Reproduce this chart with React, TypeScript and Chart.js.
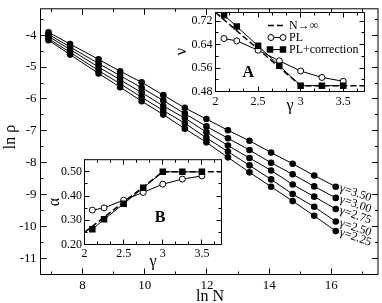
import React, { useEffect, useRef } from 'react';
import { Chart, registerables } from 'chart.js';
Chart.register(...registerables);

const SERIF = '"Liberation Serif", "DejaVu Serif", serif';

// ---- main chart data ----
const lnN = [6.908, 7.601, 8.517, 9.21, 9.903, 10.597, 11.29, 11.983, 12.676, 13.369, 14.063, 14.756, 15.449, 16.142];
const lnRho350 = [-3.91, -4.28, -4.76, -5.13, -5.48, -5.88, -6.28, -6.63, -6.98, -7.31, -7.68, -8.03, -8.4, -8.75];
const lnRho300 = [-3.98, -4.37, -4.89, -5.27, -5.65, -6.05, -6.46, -6.86, -7.23, -7.6, -8.0, -8.36, -8.74, -9.1];
const lnRho275 = [-4.04, -4.45, -5.0, -5.4, -5.8, -6.22, -6.6, -7.04, -7.46, -7.85, -8.24, -8.68, -9.06, -9.45];
const lnRho250 = [-4.11, -4.54, -5.11, -5.52, -5.95, -6.36, -6.76, -7.22, -7.65, -8.08, -8.52, -8.98, -9.38, -9.84];
const lnRho225 = [-4.16, -4.61, -5.2, -5.63, -6.07, -6.49, -6.93, -7.36, -7.83, -8.3, -8.75, -9.2, -9.66, -10.14];
const seriesLabels = ['γ=3.50', 'γ=3.00', 'γ=2.75', 'γ=2.50', 'γ=2.25'];

const mainXMajor = [8, 10, 12, 14, 16];
const mainXMinor = [7, 9, 11, 13, 15, 17];
const mainYMajor = [-4, -5, -6, -7, -8, -9, -10, -11];
const mainYMinor = [-3.5, -4.5, -5.5, -6.5, -7.5, -8.5, -9.5, -10.5];

// ---- inset data ----
const gammaPts = [2.1, 2.25, 2.5, 2.75, 3, 3.25, 3.5];
const nuPL = [0.661, 0.653, 0.621, 0.585, 0.55, 0.528, 0.515];
const nuPLc = [0.741, 0.702, 0.636, 0.568, 0.5, 0.5, 0.5];
const alphaPL = [0.342, 0.351, 0.383, 0.415, 0.449, 0.47, 0.483];
const alphaPLc = [0.263, 0.304, 0.368, 0.434, 0.5, 0.5, 0.5];
const gammaInf = [2, 3, 3.75];
const nuInf = [0.75, 0.5, 0.5];
const alphaInf = [0.25, 0.5, 0.5];

const insetXMajor = [2, 2.5, 3, 3.5];
const insetXMinor = [2.1667, 2.3333, 2.6667, 2.8333, 3.1667, 3.3333, 3.6667];
const nuYMajor = [0.48, 0.56, 0.64, 0.72];
const nuYMinor = [0.52, 0.6, 0.68];
const alphaYMajor = [0.2, 0.3, 0.4, 0.5];
const alphaYMinor = [0.25, 0.35, 0.45];

const legendLabels = ['N→∞', 'PL', 'PL+correction'];

function pts(xs: number[], ys: number[]) {
  return ys.map((y, i) => ({ x: xs[i], y }));
}

function scale(min: number, max: number, major: number[], fmt: (v: number) => string, size: number, padding: number, fit: number, axis: 'x' | 'y') {
  return {
    type: 'linear',
    min,
    max,
    bounds: 'data',
    grid: { display: false, drawTicks: false },
    border: { display: false },
    ticks: {
      font: { family: SERIF, size },
      color: '#000',
      padding,
      autoSkip: false,
      maxRotation: 0,
      minRotation: 0,
      callback: (v: number) => fmt(v),
    },
    afterBuildTicks: (s: any) => {
      s.ticks = major.map((v) => ({ value: v }));
    },
    afterFit: (s: any) => {
      if (axis === 'x') s.height = fit;
      else s.width = fit;
    },
  };
}

function drawFrame(chart: any, xMaj: number[], xMin: number[], yMaj: number[], yMin: number[], maj: number, min: number) {
  const { ctx, chartArea: a } = chart;
  const xs = chart.scales.x;
  const ys = chart.scales.y;
  ctx.save();
  ctx.strokeStyle = '#000';
  ctx.lineWidth = 1;
  ctx.strokeRect(a.left, a.top, a.right - a.left, a.bottom - a.top);
  ctx.beginPath();
  const vx = (v: number, len: number) => {
    const p = Math.floor(xs.getPixelForValue(v)) + 0.5;
    ctx.moveTo(p, a.bottom);
    ctx.lineTo(p, a.bottom - len);
    ctx.moveTo(p, a.top);
    ctx.lineTo(p, a.top + len);
  };
  const hy = (v: number, len: number) => {
    const p = Math.floor(ys.getPixelForValue(v)) + 0.5;
    ctx.moveTo(a.left, p);
    ctx.lineTo(a.left + len, p);
    ctx.moveTo(a.right, p);
    ctx.lineTo(a.right - len, p);
  };
  xMaj.forEach((v) => vx(v, maj));
  xMin.forEach((v) => vx(v, min));
  yMaj.forEach((v) => hy(v, maj));
  yMin.forEach((v) => hy(v, min));
  ctx.stroke();
  ctx.restore();
}

function text(ctx: any, s: string, x: number, y: number, font: string, rot = 0, align = 'center') {
  ctx.save();
  ctx.translate(x, y);
  if (rot) ctx.rotate(rot);
  ctx.font = font;
  ctx.fillStyle = '#000';
  ctx.textAlign = align;
  ctx.textBaseline = 'middle';
  ctx.fillText(s, 0, 0);
  ctx.restore();
}

const whiteBg = {
  id: 'whiteBg',
  beforeDraw(chart: any) {
    const { ctx, chartArea: a } = chart;
    ctx.save();
    ctx.fillStyle = '#fff';
    ctx.fillRect(a.left, a.top, a.right - a.left, a.bottom - a.top);
    ctx.restore();
  },
};

const common = {
  type: 'line',
  options: {
    animation: false,
    responsive: false,
    events: [],
    plugins: { legend: { display: false }, tooltip: { enabled: false } },
  },
};

function mainConfig(): any {
  const series = [lnRho350, lnRho300, lnRho275, lnRho250, lnRho225];
  return {
    type: 'line',
    data: {
      datasets: series.map((arr) => ({
        data: pts(lnN, arr),
        borderColor: '#000',
        borderWidth: 1,
        pointRadius: 3.3,
        pointBackgroundColor: '#000',
        pointBorderWidth: 0,
        tension: 0,
        fill: false,
      })),
    },
    options: {
      ...common.options,
      layout: { padding: { top: 0, right: 1.5, left: 0, bottom: 0 } },
      scales: {
        x: scale(6.65, 17.5, mainXMajor, (v) => String(v), 13, 3, 28.5, 'x'),
        y: scale(-11.5, -3.175, mainYMajor, (v) => String(v), 13, 4, 40.5, 'y'),
      },
    },
    plugins: [
      whiteBg,
      {
        id: 'mainDeco',
        afterDraw(chart: any) {
          drawFrame(chart, mainXMajor, mainXMinor, mainYMajor, mainYMinor, 6, 3);
          const { ctx } = chart;
          const xs = chart.scales.x;
          const ys = chart.scales.y;
          const last = lnN.length - 1;
          series.forEach((arr, i) => {
            const px = xs.getPixelForValue(lnN[last]);
            const py = ys.getPixelForValue(arr[last]);
            text(ctx, seriesLabels[i], px + 4, py + 1, `12px ${SERIF}`, (19 * Math.PI) / 180, 'left');
          });
          text(ctx, 'ln N', 210, 299.7, `16px ${SERIF}`);
          text(ctx, 'ln ρ', 11, 140, `16px ${SERIF}`, -Math.PI / 2);
        },
      },
    ],
  };
}

function insetDatasets(inf: number[], pl: number[], plc: number[]) {
  return [
    {
      data: pts(gammaPts, plc),
      borderColor: '#000',
      borderWidth: 1,
      pointStyle: 'rect',
      pointRadius: 4.6,
      pointBackgroundColor: '#000',
      pointBorderWidth: 0,
      tension: 0,
    },
    {
      data: pts(gammaPts, pl),
      borderColor: '#000',
      borderWidth: 1,
      pointStyle: 'circle',
      pointRadius: 3,
      pointBackgroundColor: '#fff',
      pointBorderColor: '#000',
      pointBorderWidth: 1,
      tension: 0,
    },
    {
      data: pts(gammaInf, inf),
      borderColor: '#000',
      borderWidth: 1.5,
      borderDash: [6, 3],
      pointRadius: 0,
      tension: 0,
    },
  ];
}

function insetAConfig(): any {
  return {
    type: 'line',
    data: { datasets: insetDatasets(nuInf, nuPL, nuPLc) },
    options: {
      ...common.options,
      layout: { padding: { top: 12.5, right: 10.5, left: 0, bottom: 0 } },
      scales: {
        x: scale(2, 3.75, insetXMajor, (v) => String(v), 12, 3, 28.5, 'x'),
        y: scale(0.48, 0.75, nuYMajor, (v) => v.toFixed(2), 12, 3, 45.5, 'y'),
      },
    },
    plugins: [
      whiteBg,
      {
        id: 'aDeco',
        afterDraw(chart: any) {
          drawFrame(chart, insetXMajor, insetXMinor, nuYMajor, nuYMinor, 5, 3);
          const { ctx } = chart;
          text(ctx, 'ν', 11.7, 51.7, `16px ${SERIF}`, -Math.PI / 2);
          text(ctx, 'γ', 120, 106, `16px ${SERIF}`);
          text(ctx, 'A', 78.3, 73.3, `bold 16px ${SERIF}`);
          // legend
          ctx.save();
          ctx.strokeStyle = '#000';
          ctx.fillStyle = '#000';
          ctx.lineWidth = 1.5;
          ctx.setLineDash([6, 3]);
          ctx.beginPath();
          ctx.moveTo(98, 25.5);
          ctx.lineTo(115, 25.5);
          ctx.stroke();
          ctx.setLineDash([]);
          ctx.lineWidth = 1;
          ctx.beginPath();
          ctx.moveTo(101, 37.5);
          ctx.lineTo(113, 37.5);
          ctx.moveTo(100, 49.5);
          ctx.lineTo(113, 49.5);
          ctx.stroke();
          [101, 113].forEach((x) => {
            ctx.beginPath();
            ctx.arc(x, 37.5, 3, 0, Math.PI * 2);
            ctx.fillStyle = '#fff';
            ctx.fill();
            ctx.stroke();
          });
          ctx.fillStyle = '#000';
          [100, 113].forEach((x) => {
            ctx.fillRect(x - 3.25, 49.5 - 3.25, 6.5, 6.5);
          });
          ctx.restore();
          text(ctx, legendLabels[0], 119, 25.5, `12px ${SERIF}`, 0, 'left');
          text(ctx, legendLabels[1], 119, 37.5, `12px ${SERIF}`, 0, 'left');
          text(ctx, legendLabels[2], 119, 49.5, `12px ${SERIF}`, 0, 'left');
        },
      },
    ],
  };
}

function insetBConfig(): any {
  return {
    type: 'line',
    data: { datasets: insetDatasets(alphaInf, alphaPL, alphaPLc) },
    options: {
      ...common.options,
      layout: { padding: { top: 9.5, right: 8.5, left: 0, bottom: 0 } },
      scales: {
        x: scale(2, 3.75, insetXMajor, (v) => String(v), 12, 2, 30.5, 'x'),
        y: scale(0.2, 0.55, alphaYMajor, (v) => v.toFixed(2), 12, 2.5, 54.5, 'y'),
      },
    },
    plugins: [
      whiteBg,
      {
        id: 'bDeco',
        afterDraw(chart: any) {
          drawFrame(chart, insetXMajor, insetXMinor, alphaYMajor, alphaYMinor, 5, 3);
          const { ctx } = chart;
          text(ctx, 'α', 25, 52, `16px ${SERIF}`, -Math.PI / 2);
          text(ctx, 'γ', 123, 112, `16px ${SERIF}`);
          text(ctx, 'B', 130, 68.3, `bold 16px ${SERIF}`);
        },
      },
    ],
  };
}

export default function App() {
  const mainRef = useRef<HTMLCanvasElement>(null);
  const aRef = useRef<HTMLCanvasElement>(null);
  const bRef = useRef<HTMLCanvasElement>(null);

  useEffect(() => {
    const charts = [
      new Chart(mainRef.current as HTMLCanvasElement, mainConfig()),
      new Chart(aRef.current as HTMLCanvasElement, insetAConfig()),
      new Chart(bRef.current as HTMLCanvasElement, insetBConfig()),
    ];
    return () => charts.forEach((c) => c.destroy());
  }, []);

  return (
    <div style={{ position: 'fixed', left: 0, top: 0, width: 382, height: 303, background: '#fff', overflow: 'hidden' }}>
      <canvas ref={mainRef} width={382} height={306} style={{ position: 'absolute', left: 0, top: -3, width: 382, height: 306 }} />
      <canvas ref={aRef} width={205} height={120} style={{ position: 'absolute', left: 170, top: 0, width: 205, height: 120 }} />
      <canvas ref={bRef} width={200} height={125} style={{ position: 'absolute', left: 30, top: 150, width: 200, height: 125 }} />
    </div>
  );
}
